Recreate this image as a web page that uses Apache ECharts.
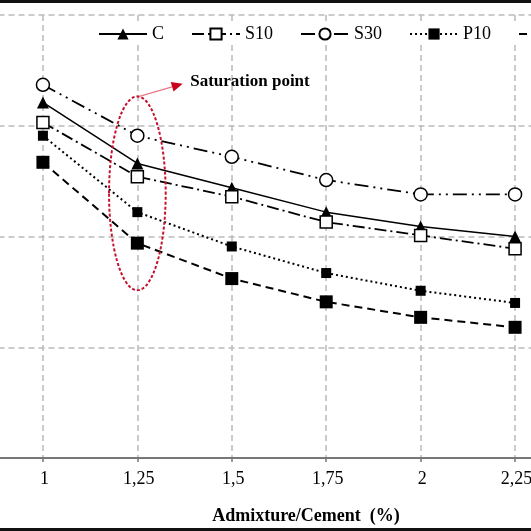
<!DOCTYPE html>
<html><head><meta charset="utf-8">
<script src="https://cdn.jsdelivr.net/npm/echarts@6/dist/echarts.min.js"></script>
<style>html,body{margin:0;padding:0;background:#fff}#c{width:531px;height:531px}</style>
</head><body><div id="c"></div>
<script>
const xValues = [1, 1.25, 1.5, 1.75, 2, 2.25];
const seriesNames = ['C', 'S10', 'S30', 'P10', 'P30'];
const C   = [3.21, 2.66, 2.44, 2.22, 2.09, 2.00];
const S10 = [3.03, 2.54, 2.36, 2.13, 2.01, 1.89];
const S30 = [3.37, 2.91, 2.72, 2.51, 2.38, 2.38];
const P10 = [2.91, 2.22, 1.91, 1.67, 1.51, 1.40];
const P30 = [2.67, 1.94, 1.62, 1.41, 1.27, 1.18];
const xAxisTitle = 'Admixture/Cement  (%)';
const annotationText = 'Saturation point';

const FONT = '"Liberation Serif", "Times New Roman", serif';
const pairs = arr => xValues.map((x, i) => [x, arr[i]]);

const chart = echarts.init(document.getElementById('c'), null, {renderer: 'canvas'});

function mk(name, data, symbol, size, fill, dash, width) {
  return {
    name, type: 'line', data: pairs(data), symbol, symbolSize: size,
    itemStyle: {color: fill, borderColor: '#000', borderWidth: fill === '#fff' ? 1.5 : 0},
    lineStyle: {color: '#000', width: width, type: dash},
    emphasis: {disabled: true}, animation: false, z: 3
  };
}

chart.setOption({
  animation: false,
  backgroundColor: '#fff',
  grid: {left: -51.5, right: -78.5, top: 15, bottom: 73, containLabel: false, outerBoundsMode: 'none'},
  legend: {
    data: seriesNames, left: 94, top: 23, width: 900, itemWidth: 48, itemHeight: 14, itemGap: 27,
    padding: [2, 4], backgroundColor: '#fff',
    textStyle: {fontFamily: FONT, fontSize: 18, color: '#000'}
  },
  xAxis: {
    type: 'value', min: 0.75, max: 2.5, interval: 0.25,
    axisLine: {lineStyle: {color: '#777', width: 2}},
    axisTick: {show: true, length: 4, lineStyle: {color: '#777', width: 1.5}},
    axisLabel: {
      margin: 12, fontFamily: FONT, fontSize: 18, color: '#000', padding: [0, 0, 0, 3],
      formatter: v => String(v).replace('.', ',')
    },
    splitLine: {show: true, lineStyle: {color: '#bbb', width: 1.5, type: [6, 4]}}
  },
  yAxis: {
    type: 'value', min: 0, max: 4, interval: 1,
    axisLine: {show: false}, axisTick: {show: false}, axisLabel: {show: false},
    splitLine: {show: true, lineStyle: {color: '#bbb', width: 1.5, type: [6, 4]}}
  },
  series: [
    mk('C', C, 'triangle', 12, '#000', 'solid', 1.5),
    mk('S10', S10, 'rect', 12, '#fff', [12, 4, 2, 4], 1.8),
    mk('S30', S30, 'circle', 13, '#fff', [14, 5, 2, 5, 2, 5], 1.8),
    mk('P10', P10, 'rect', 10, '#000', [2, 3], 2),
    mk('P30', P30, 'rect', 13, '#000', [8, 5], 2)
  ]
});

// annotation anchored to data coordinates
const ellCenter = chart.convertToPixel({gridIndex: 0}, [1.25, 2.39]);
const ellEdge = chart.convertToPixel({gridIndex: 0}, [1.25 + 0.075, 2.39 + 0.875]);
const rx = ellEdge[0] - ellCenter[0];
const ry = ellCenter[1] - ellEdge[1];
const arrowStart = [ellCenter[0] + 2, ellCenter[1] - ry];
const arrowTip = chart.convertToPixel({gridIndex: 0}, [1.37, 3.38]);
const textPos = chart.convertToPixel({gridIndex: 0}, [1.39, 3.395]);
const dx = arrowTip[0] - arrowStart[0], dy = arrowTip[1] - arrowStart[1];
const len = Math.sqrt(dx * dx + dy * dy), ux = dx / len, uy = dy / len;
const hl = 11, hw = 5;
const base = [arrowTip[0] - ux * hl, arrowTip[1] - uy * hl];
const head = [arrowTip, [base[0] - uy * hw, base[1] + ux * hw], [base[0] + uy * hw, base[1] - ux * hw]];

chart.setOption({
  graphic: [
    {type: 'ellipse', shape: {cx: ellCenter[0], cy: ellCenter[1], rx: rx, ry: ry},
     style: {fill: 'none', stroke: '#c8102e', lineWidth: 2, lineDash: [3, 2]}, z: 10},
    {type: 'line', shape: {x1: arrowStart[0], y1: arrowStart[1], x2: base[0], y2: base[1]},
     style: {stroke: '#e87a86', lineWidth: 1.3}, z: 10},
    {type: 'polygon', shape: {points: head}, style: {fill: '#c8001e'}, z: 10},
    {type: 'text', x: textPos[0], y: textPos[1],
     style: {text: annotationText, font: 'bold 17px ' + FONT, fill: '#000', textVerticalAlign: 'middle', verticalAlign: 'middle'}, z: 10},
    {type: 'text', x: 306, y: 516,
     style: {text: xAxisTitle, font: 'bold 18px ' + FONT, fill: '#000', textAlign: 'center', align: 'center', verticalAlign: 'middle'}, z: 10},
    {type: 'rect', shape: {x: 0, y: 0, width: 531, height: 3}, style: {fill: '#111'}, z: 20},
    {type: 'rect', shape: {x: 0, y: 528, width: 531, height: 3}, style: {fill: '#111'}, z: 20}
  ]
});
</script></body></html>
